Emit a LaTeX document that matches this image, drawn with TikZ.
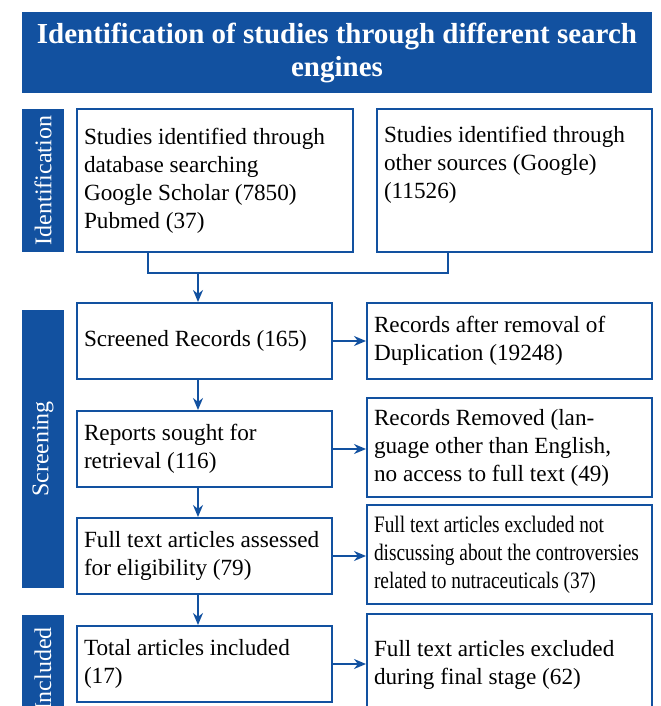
\documentclass[tikz,border=0pt]{standalone}
\usepackage{fontspec}
\setmainfont{Liberation Serif}
\newfontfamily\narrowserif[FakeStretch=0.82]{Liberation Serif}
\usetikzlibrary{arrows.meta}
\definecolor{P}{RGB}{18,81,160}
\def\Wd{660}
\def\Ht{706}

\begin{document}
\begin{tikzpicture}[x=0.5pt,y=-0.5pt,
    bar/.style={fill=P,text=white,rotate=90,inner sep=0pt,minimum height=21pt,font=\fontsize{12}{14}\selectfont},
    box/.style={draw=P,line width=1pt,fill=white,align=flush left,inner xsep=3.5pt,inner ysep=0pt,font=\fontsize{11.6}{14}\selectfont},
    lbox/.style={box,text width=120.5pt,minimum height=38pt},
    rbox/.style={box,text width=135.5pt},
    link/.style={P,line width=0.8pt},
    flow/.style={link,-{Stealth[length=6pt,width=5pt]}}]
    \path[use as bounding box] (0,0) rectangle (\Wd,\Ht);
    \node[fill=P,text=white,font=\bfseries\fontsize{14.5}{16.5}\selectfont,align=center,minimum width=315pt,minimum height=40.5pt,inner sep=0pt] (title) at (337,52.5) {Identification of studies through different search\\engines};
    \node[bar,minimum width=71.5pt] (idbar) at (43,180.5) {Identification};
    \node[bar,minimum width=139pt] (scbar) at (43,449) {Screening};
    \node[bar,minimum width=54pt] (inbar) at (43,669) {Included};
    \node[box,text width=131pt,minimum height=71.5pt] (dbsearch) at (215,180.5) {Studies identified through\\database searching\\Google Scholar (7850)\\Pubmed (37)};
    \node[box,text width=130.5pt,minimum height=71.5pt] (othersrc) at (514.5,180.5) {Studies identified through\\other sources (Google)\\(11526)\\\strut};
    \node[lbox] (screened) at (204.5,341) {Screened Records (165)};
    \node[lbox] (sought) at (204.5,449) {Reports sought for\\retrieval (116)};
    \node[lbox] (assessed) at (204.5,556) {Full text articles assessed\\for eligibility (79)};
    \node[lbox] (included) at (204.5,664) {Total articles included\\(17)};
    \node[rbox,minimum height=38pt] (dedup) at (509.5,341) {Records after removal of\\Duplication (19248)};
    \node[rbox,minimum height=49.5pt] (removed) at (509.5,447.5) {Records Removed (lan-\\guage other than English,\\no access to full text (49)};
    \node[rbox,minimum height=49.5pt,font=\narrowserif\fontsize{11.8}{14}\selectfont] (notrelevant) at (509.5,554.5) {Full text articles excluded not\\discussing about the controversies\\related to nutraceuticals (37)};
    \node[rbox,minimum height=51pt] (finalstage) at (509.5,665) {Full text articles excluded\\during final stage (62)};
    \coordinate (merge) at (198,273);
    \draw[link] ([xshift=-33.5pt]dbsearch.south) |- (merge) -| ([xshift=-33.25pt]othersrc.south);
    \draw[flow] (merge) -- (merge |- screened.north);
    \draw[flow] (screened.south -| merge) -- (sought.north -| merge);
    \draw[flow] (sought.south -| merge) -- (assessed.north -| merge);
    \draw[flow] (assessed.south -| merge) -- (included.north -| merge);
    \foreach \a/\b in {screened/dedup,sought/removed,assessed/notrelevant,included/finalstage}
        \draw[flow] (\a.east) -- (\a.east -| \b.west);
\end{tikzpicture}
\end{document}
